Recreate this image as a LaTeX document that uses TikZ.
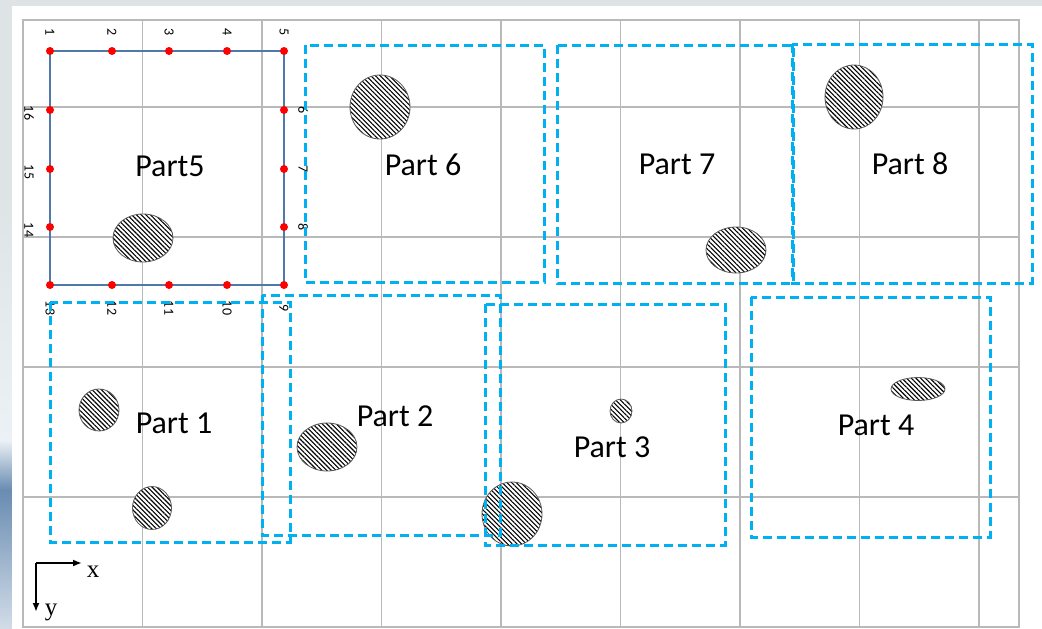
\documentclass[tikz,border=0pt]{standalone}
\usepackage{fontspec}
\setmainfont{Carlito}
\newfontfamily\axisfont{Liberation Serif}
\usetikzlibrary{arrows.meta,patterns.meta,positioning}
\definecolor{PartCyan}{RGB}{0,176,240}
\definecolor{GridGray}{RGB}{185,185,185}
\definecolor{FrameBlue}{RGB}{80,120,170}
\definecolor{DotRed}{RGB}{255,0,0}
\definecolor{BackGray}{RGB}{222,227,230}
\definecolor{WaveBlue}{RGB}{105,140,178}
\definecolor{WavePale}{RGB}{236,241,245}
\newcommand{\hatchblob}[4]{%
  \draw[blob] (#1,#2) ellipse [x radius=#3,y radius=#4];}
\newcommand{\partbox}[4]{%
  \draw[partbox] (#1,#2) rectangle (#3,#4);}

\begin{document}
\begin{tikzpicture}[x=1pt,y=-1pt,
  partbox/.style={PartCyan,line width=3pt,dash pattern=on 9pt off 5pt},
  partlabel/.style={font=\fontsize{32}{36}\selectfont,inner sep=0pt},
  numlabel/.style={font=\fontsize{14}{16}\selectfont,rotate=-90,inner sep=0pt},
  axislabel/.style={font=\axisfont\fontsize{25}{28}\selectfont,inner sep=0pt},
  blob/.style={draw=black!65,line width=0.8pt,preaction={fill=white},
    pattern={Lines[angle=-45,distance=3.3pt,line width=1.1pt]}}]
  \useasboundingbox (0,0) rectangle (1042,629);
  % backdrop
  \fill[BackGray] (0,0) rectangle (1042,629);
  \shade[top color=BackGray,bottom color=WavePale] (0,190) rectangle (12,440);
  \shade[top color=WavePale,bottom color=WaveBlue] (0,440) rectangle (12,490);
  \shade[top color=WaveBlue,bottom color=WavePale!80!WaveBlue] (0,490) rectangle (12,629);
  \fill[white] (12,6) rectangle (1042,629);
  % grid
  \foreach \x in {142.5,262,381.5,501,620.5,740,859.5,979}
    \draw[GridGray,line width=1.3pt] (\x,20) -- (\x,627);
  \foreach \y in {107,237,367,497}
    \draw[GridGray,line width=1.3pt] (23,\y) -- (1019,\y);
  \draw[GridGray,line width=1.3pt] (23,20) rectangle (1019,627);
  % Part5 frame with its points
  \foreach \i/\x/\y in {1/50/51,2/112/51,3/169/51,4/227/51,5/284/51,
      6/284/110,7/284/169,8/284/227,9/284/285,10/227/285,11/169/285,
      12/112/285,13/50/285,14/50/227,15/50/169,16/50/110}
    \coordinate (p\i) at (\x,\y);
  \draw[FrameBlue,line width=1.2pt] (p1) -- (p5) -- (p9) -- (p13) -- cycle;
  \foreach \i in {1,...,16}
    \fill[DotRed] (p\i) circle (4);
  \foreach \i in {1,...,5}
    \node[numlabel] (n\i) at ([yshift=19pt]p\i) {\i};
  \foreach \i in {6,7,8}
    \node[numlabel] (n\i) at ([xshift=19pt]p\i) {\i};
  \foreach \i in {9,...,13}
    \node[numlabel] (n\i) at ([yshift=-23pt]p\i) {\i};
  \foreach \i in {14,15,16}
    \node[numlabel] (n\i) at ([xshift=-21pt,yshift=-3pt]p\i) {\i};
  % inclusions
  \hatchblob{143}{238}{30}{24}
  \hatchblob{380}{107}{30}{32}
  \hatchblob{736}{250}{30}{23}
  \hatchblob{854}{97}{29}{32}
  \hatchblob{99}{410}{20}{21}
  \hatchblob{152}{508}{19.5}{21.5}
  \hatchblob{327}{447}{30}{24}
  \hatchblob{512}{514}{30}{32}
  \hatchblob{621}{411}{11}{12}
  \hatchblob{918}{389}{27}{11.5}
  % parts
  \partbox{305}{45}{544}{282}
  \partbox{557}{45}{793}{283}
  \partbox{792}{44}{1032}{283}
  \partbox{50}{302}{290}{542}
  \partbox{262}{295}{500}{535}
  \partbox{485}{304}{725}{545}
  \partbox{751}{297}{990}{537}
  \node[partlabel] (part5) at (170,166) {Part5};
  \node[partlabel] (part6) at (423,165) {Part 6};
  \node[partlabel] (part7) at (677,164) {Part 7};
  \node[partlabel] (part8) at (910,164) {Part 8};
  \node[partlabel] (part1) at (174,423) {Part 1};
  \node[partlabel] (part2) at (395,416) {Part 2};
  \node[partlabel] (part3) at (612,447) {Part 3};
  \node[partlabel] (part4) at (876,425) {Part 4};
  % axes
  \coordinate (origin) at (36,563);
  \coordinate (xtip) at (82,563);
  \coordinate (ytip) at (36,612);
  \draw[-{Latex[length=9pt,width=7pt]},line width=2pt] (origin) -- (xtip);
  \draw[-{Latex[length=9pt,width=7pt]},line width=2pt] (origin) -- (ytip);
  \node[axislabel] (xlab) at (93,572) {x};
  \node[axislabel] (ylab) at (51,612) {y};
\end{tikzpicture}
\end{document}
